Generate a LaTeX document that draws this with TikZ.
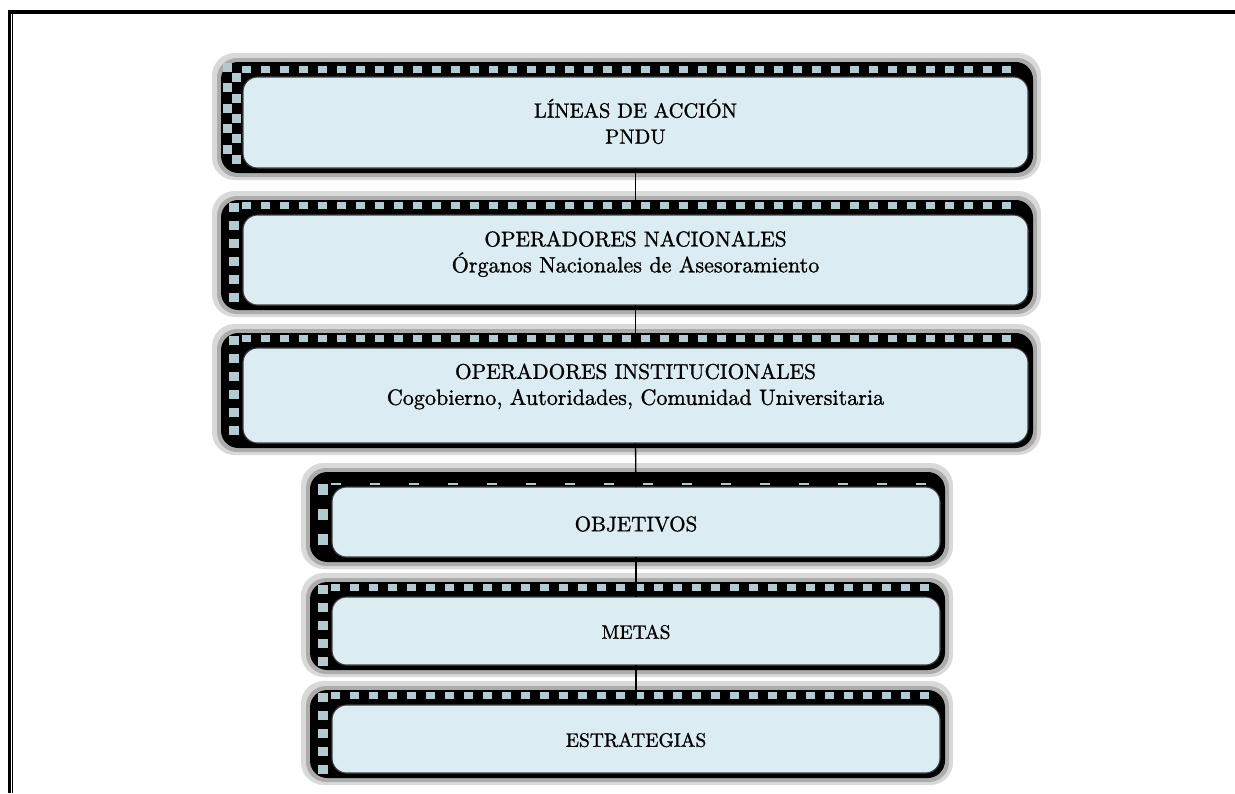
\documentclass[tikz,border=0pt]{standalone}
\usepackage{fontspec}
\newfontfamily\fbold[FakeBold=1.1]{lmroman10-regular.otf}
\usetikzlibrary{calc}
\definecolor{boxfill}{RGB}{219,237,243}
\definecolor{sqc}{RGB}{178,202,208}
% #1 L, #2 T, #3 R, #4 B (pixels), #5 name, #6 band type, #7 text, #8 text y offset
\newcommand\fancybox[8]{%
  \fill[gray!30, rounded corners=17pt] ({#1-31},{#2-24}) rectangle ({#3+13},{#4+12});
  \fill[gray!65, rounded corners=15pt] ({#1-26},{#2-19}) rectangle ({#3+9},{#4+9});
  \fill[black, rounded corners=13pt] ({#1-22},{#2-15}) rectangle ({#3+5},{#4+5});
  \pgfmathsetmacro\xa{#1-1}\pgfmathsetmacro\xb{#1+18}\pgfmathsetmacro\xc{#3-14}%
  \ifcase#6
    \foreach \i in {0,...,9}{%
      \pgfmathsetmacro\yy{#2-14+\i*10.2}%
      \ifodd\i
        \fill[sqc] ({#1-11},\yy) rectangle ({#1-2},{\yy+9});
      \else
        \fill[sqc] ({#1-20},\yy) rectangle ({#1-11},{\yy+9});
      \fi}%
    \foreach \x in {\xa,\xb,...,\xc}{\fill[sqc] (\x,{#2-11}) rectangle ({\x+9},{#2-4});}%
  \or
    \pgfmathsetmacro\ya{#2-12}\pgfmathsetmacro\yb{#2+6}\pgfmathsetmacro\yc{#4-8}%
    \foreach \yy in {\ya,\yb,...,\yc}{\fill[sqc] ({#1-14},\yy) rectangle ({#1-4},{\yy+9});}%
    \foreach \x in {\xa,\xb,...,\xc}{\fill[sqc] (\x,{#2-13}) rectangle ({\x+9},{#2-6});}%
  \or
    \pgfmathsetmacro\ya{#2-3}\pgfmathsetmacro\yb{#2+22}\pgfmathsetmacro\yc{#4-8}%
    \pgfmathsetmacro\xb{#1+38}%
    \foreach \yy in {\ya,\yb,...,\yc}{\fill[sqc] ({#1-14},\yy) rectangle ({#1-4},{\yy+11});}%
    \foreach \x in {\xa,\xb,...,\xc}{\fill[sqc] (\x,{#2-4}) rectangle ({\x+10},{#2-2});}%
  \fi
  \node[inbox, minimum width={(#3-#1)*0.75pt}, minimum height={(#4-#2)*0.75pt}]
    (#5) at ({(#1+#3)/2},{(#2+#4)/2}) {};
  \node[txt] (#5t) at ($(#5.center)+(0,#8)$) {#7};
}
\begin{document}
\begin{tikzpicture}[x=0.75pt,y=-0.75pt,
  inbox/.style={draw=black!75, line width=0.8pt, fill=boxfill, rounded corners=11pt,
    inner sep=0pt, outer sep=0pt},
  txt/.style={align=center, inner sep=0pt, font=\fbold\fontsize{16}{19.5}\selectfont},
  link/.style={draw=black, line width=1pt}]
\useasboundingbox (0,0) rectangle (1235,793);
% page frame
\fill (8,10) rectangle (1235,14);
\fill (8,10) rectangle (11,793);
\fill (12.2,14) rectangle (13.4,793);
% boxes
\fancybox{243}{77}{1028}{168}{b1}{0}{\fontsize{15.4}{17.3}\selectfont L\'INEAS DE ACCI\'ON\\\fontsize{15.4}{17.3}\selectfont PNDU}{-1}
\fancybox{243}{215}{1028}{305}{b2}{1}{OPERADORES NACIONALES\\{\fontsize{16.6}{19.5}\selectfont \'Organos Nacionales de Asesoramiento}}{-6}
\fancybox{243}{348}{1028}{443}{b3}{1}{OPERADORES INSTITUCIONALES\\{\fontsize{16.6}{19.5}\selectfont Cogobierno, Autoridades, Comunidad Universitaria}}{-9}
\fancybox{332}{487}{940}{557}{b4}{2}{\fontsize{15.8}{19}\selectfont OBJETIVOS}{2}
\fancybox{332}{597}{940}{665}{b5}{1}{\fontsize{14.6}{18}\selectfont METAS}{1}
\fancybox{332}{705}{940}{773}{b6}{1}{\fontsize{14.6}{18}\selectfont ESTRATEGIAS}{1}
% connectors
\draw[link] (b1.south) -- (b2.north);
\draw[link] (b2.south) -- (b3.north);
\draw[link] (b3.south) -- (b4.north);
\draw[link] (b4.south) -- (b5.north);
\draw[link] (b5.south) -- (b6.north);
\end{tikzpicture}
\end{document}
